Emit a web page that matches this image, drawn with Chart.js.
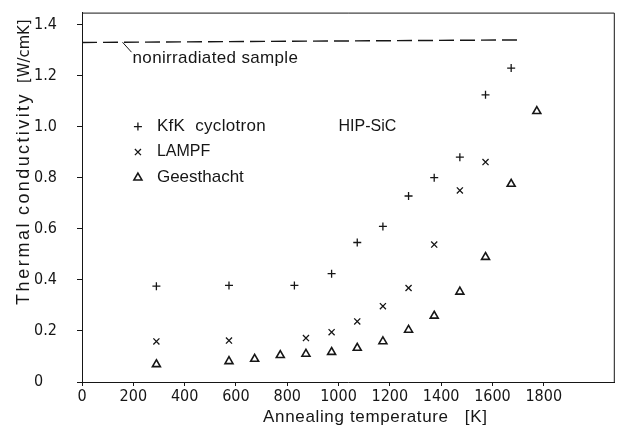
<!DOCTYPE html>
<html>
<head>
<meta charset="utf-8">
<script src="https://cdn.jsdelivr.net/npm/chart.js@4.4.0/dist/chart.umd.min.js"></script>
<style>
  html, body { margin: 0; padding: 0; background: #fff; }
  #wrap { width: 621px; height: 427px; position: relative; }
</style>
</head>
<body>
<div id="wrap"><canvas id="conductivityChart"></canvas></div>
<script>
// Annealing temperature [K] and thermal conductivity [W/cmK]
const kfkTemp = [290, 573, 828, 973, 1073, 1173, 1273, 1373, 1473, 1573, 1673];
const kfkCond = [0.375, 0.378, 0.378, 0.424, 0.546, 0.609, 0.728, 0.800, 0.880, 1.124, 1.229];

const lampfTemp = [290, 573, 873, 973, 1073, 1173, 1273, 1373, 1473, 1573];
const lampfCond = [0.159, 0.162, 0.172, 0.195, 0.237, 0.297, 0.368, 0.538, 0.750, 0.861];

const geestTemp = [290, 573, 673, 773, 873, 973, 1073, 1173, 1273, 1373, 1473, 1573, 1673, 1773];
const geestCond = [0.069, 0.081, 0.090, 0.105, 0.110, 0.117, 0.133, 0.159, 0.204, 0.259, 0.353, 0.489, 0.775, 1.060];

// nonirradiated reference level (dashed) and its label leader
const refTemp = [0, 1700];
const refCond = [1.329, 1.339];
const leaderTemp = [158, 193];
const leaderCond = [1.330, 1.291];

const xTicks = [0, 200, 400, 600, 800, 1000, 1200, 1400, 1600, 1800];
const yTicks = [0, 0.2, 0.4, 0.6, 0.8, 1.0, 1.2, 1.4];

const seriesNames = ['KfK  cyclotron', 'LAMPF', 'Geesthacht'];

const INK = '#161616';
const TICK_FONT = "'Liberation Sans Narrow', 'DejaVu Sans Condensed', 'Liberation Sans', sans-serif";
const TEXT_FONT = "'Liberation Sans', 'DejaVu Sans', sans-serif";

function toPoints(xs, ys) {
    return xs.map((x, i) => ({ x: x, y: ys[i] }));
}

// draws text letter by letter with extra tracking (the original uses stencil lettering)
function spacedText(ctx, text, x, y, spacing, align) {
    const chars = Array.from(text);
    const widths = chars.map(c => ctx.measureText(c).width);
    const total = widths.reduce((a, b) => a + b, 0) + spacing * (chars.length - 1);
    let cx = align === 'center' ? x - total / 2 : x;
    const prev = ctx.textAlign;
    ctx.textAlign = 'left';
    chars.forEach((c, i) => {
        ctx.fillText(c, cx, y);
        cx += widths[i] + spacing;
    });
    ctx.textAlign = prev;
}

const markerStyles = [
    { pointStyle: 'cross', radius: 4, borderWidth: 1.3 },
    { pointStyle: 'crossRot', radius: 4.3, borderWidth: 1.3 },
    { pointStyle: 'triangle', radius: 4.6, borderWidth: 1.6 }
];

// draws frame, texts and the in-plot legend
const annotations = {
    id: 'annotations',
    afterDraw(chart) {
        const ctx = chart.ctx;
        const area = chart.chartArea;
        const xs = chart.scales.x;
        const ys = chart.scales.y;

        ctx.save();
        ctx.strokeStyle = INK;
        ctx.lineWidth = 1;
        ctx.beginPath();
        ctx.moveTo(area.left, area.top + 0.5);
        ctx.lineTo(area.right - 0.5, area.top + 0.5);
        ctx.lineTo(area.right - 0.5, area.bottom);
        ctx.stroke();

        ctx.fillStyle = INK;
        ctx.textBaseline = 'middle';
        ctx.textAlign = 'left';

        ctx.font = '17px ' + TEXT_FONT;
        spacedText(ctx, 'nonirradiated sample', xs.getPixelForValue(197), ys.getPixelForValue(1.268), 0.35);
        ctx.font = '16px ' + TEXT_FONT;
        spacedText(ctx, 'HIP-SiC', xs.getPixelForValue(1000), ys.getPixelForValue(1.0), 0);

        // legend
        const legendY = [1.0, 0.9, 0.8];
        const legendSize = [17, 16, 17];
        const legendTrack = [0.3, 0, 0];
        const markX = xs.getPixelForValue(218);
        const textX = xs.getPixelForValue(292);
        seriesNames.forEach((name, i) => {
            const py = ys.getPixelForValue(legendY[i]);
            ctx.font = legendSize[i] + 'px ' + TEXT_FONT;
            spacedText(ctx, name, textX, py, legendTrack[i]);
            ctx.save();
            ctx.strokeStyle = INK;
            ctx.fillStyle = 'rgba(0,0,0,0)';
            ctx.lineWidth = markerStyles[i].borderWidth;
            Chart.helpers.drawPoint(ctx, {
                pointStyle: markerStyles[i].pointStyle,
                radius: markerStyles[i].radius,
                borderWidth: markerStyles[i].borderWidth,
                rotation: 0
            }, markX, py);
            ctx.restore();
        });

        // axis titles
        ctx.font = '17px ' + TEXT_FONT;
        spacedText(ctx, 'Annealing temperature   [K]', 375, 417, 0.65, 'center');

        // y title: lettered larger and wider than the rest in the original
        ctx.save();
        ctx.translate(24.5, 305);
        ctx.rotate(-Math.PI / 2);
        ctx.font = '18px ' + TEXT_FONT;
        spacedText(ctx, 'Thermal', 0, 0, 2.6);
        spacedText(ctx, 'conductivity', 90, 0, 2.4);
        ctx.font = '16.5px ' + TICK_FONT;
        spacedText(ctx, '[W/cmK]', 222, 0, 0);
        ctx.restore();

        ctx.restore();
    }
};

const scatterSets = [
    { label: seriesNames[0], data: toPoints(kfkTemp, kfkCond) },
    { label: seriesNames[1], data: toPoints(lampfTemp, lampfCond) },
    { label: seriesNames[2], data: toPoints(geestTemp, geestCond) }
].map((ds, i) => Object.assign(ds, {
    showLine: false,
    pointStyle: markerStyles[i].pointStyle,
    pointRadius: markerStyles[i].radius,
    pointHoverRadius: markerStyles[i].radius,
    pointBorderWidth: markerStyles[i].borderWidth,
    pointBorderColor: INK,
    pointBackgroundColor: 'rgba(0,0,0,0)'
}));

new Chart(document.getElementById('conductivityChart'), {
    type: 'scatter',
    data: {
        datasets: scatterSets.concat([
            {
                label: 'nonirradiated sample',
                data: toPoints(refTemp, refCond),
                showLine: true,
                borderColor: INK,
                borderWidth: 1.4,
                borderDash: [15, 6],
                pointRadius: 0
            },
            {
                label: 'leader',
                data: toPoints(leaderTemp, leaderCond),
                showLine: true,
                borderColor: INK,
                borderWidth: 1,
                pointRadius: 0
            }
        ])
    },
    options: {
        responsive: true,
        maintainAspectRatio: false,
        animation: false,
        layout: {
            padding: { top: 8, right: 0, left: 34, bottom: 0 }
        },
        plugins: {
            legend: { display: false },
            tooltip: { enabled: false }
        },
        scales: {
            x: {
                type: 'linear',
                min: 0,
                max: 2077,
                afterBuildTicks: scale => { scale.ticks = xTicks.map(v => ({ value: v })); },
                afterFit: scale => { scale.height = 45; },
                grid: { drawOnChartArea: false, drawTicks: true, tickLength: 4, color: INK },
                border: { display: true, color: INK, width: 1 },
                ticks: {
                    color: INK,
                    padding: 1,
                    maxRotation: 0,
                    font: { family: TICK_FONT, size: 16 },
                    callback: v => String(v)
                }
            },
            y: {
                type: 'linear',
                min: 0,
                max: 1.446,
                afterBuildTicks: scale => { scale.ticks = yTicks.map(v => ({ value: v })); },
                afterFit: scale => { scale.width = 48; },
                grid: { drawOnChartArea: false, drawTicks: true, tickLength: 5, color: INK },
                border: { display: true, color: INK, width: 1 },
                ticks: {
                    color: INK,
                    crossAlign: 'far',
                    font: { family: TICK_FONT, size: 16 },
                    callback: v => (v === 0 ? '0' : v.toFixed(1))
                }
            }
        }
    },
    plugins: [annotations]
});
</script>
</body>
</html>
